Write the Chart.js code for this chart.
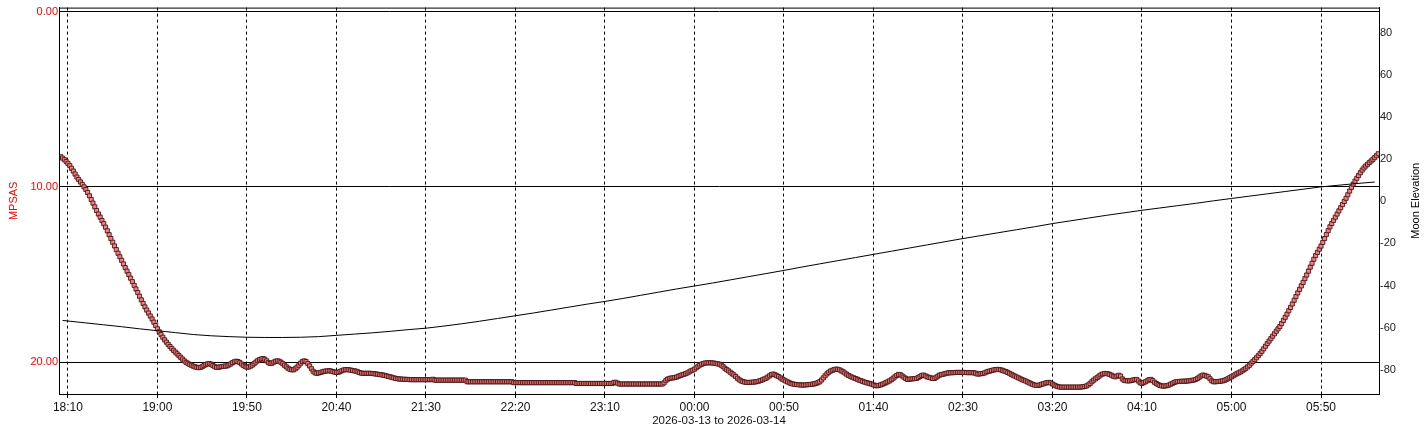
<!DOCTYPE html>
<html>
<head>
<meta charset="utf-8">
<script src="https://cdn.jsdelivr.net/npm/chart.js@4.4.1/dist/chart.umd.min.js"></script>
<style>
  html, body { margin: 0; padding: 0; background: #fff; }
  #wrap { width: 1428px; height: 432px; }
</style>
</head>
<body>
<div id="wrap"><canvas id="chart"></canvas></div>
<script>
// minutes are counted from 18:00 on the first evening
const startHour = 18;
const dateLabel = "2026-03-13 to 2026-03-14";

// sky brightness, one reading a minute, first one at 18:06
const mpsasFirstMinute = 6;
const mpsas = [
  8.28, 8.36, 8.45, 8.55,
  8.66, 8.79, 8.94, 9.10, 9.27, 9.44, 9.58, 9.72, 9.86, 10.00,
  10.15, 10.32, 10.51, 10.72, 10.93, 11.14, 11.35, 11.55, 11.73, 11.92,
  12.10, 12.30, 12.51, 12.73, 12.95, 13.16, 13.37, 13.58, 13.79, 13.99,
  14.19, 14.40, 14.61, 14.81, 15.01, 15.21, 15.41, 15.62, 15.83, 16.03,
  16.24, 16.45, 16.65, 16.85, 17.03, 17.20, 17.37, 17.54, 17.72, 17.91,
  18.10, 18.27, 18.43, 18.58, 18.73, 18.86, 18.99, 19.11, 19.22, 19.33,
  19.43, 19.53, 19.63, 19.73, 19.83, 19.93, 20.01, 20.07, 20.13, 20.18,
  20.23, 20.27, 20.30, 20.32, 20.30, 20.26, 20.20, 20.14, 20.10, 20.08,
  20.12, 20.19, 20.26, 20.30, 20.30, 20.27, 20.25, 20.24, 20.23, 20.21,
  20.16, 20.10, 20.03, 19.98, 19.95, 19.97, 20.03, 20.11, 20.19, 20.25,
  20.29, 20.28, 20.23, 20.17, 20.09, 20.00, 19.92, 19.86, 19.82, 19.80,
  19.84, 19.93, 20.03, 20.08, 20.06, 20.00, 19.95, 19.93, 19.95, 20.01,
  20.09, 20.18, 20.27, 20.35, 20.41, 20.44, 20.44, 20.38, 20.29, 20.18,
  20.06, 19.97, 19.93, 19.97, 20.08, 20.22, 20.38, 20.52, 20.61, 20.64,
  20.62, 20.59, 20.56, 20.53, 20.51, 20.50, 20.49, 20.51, 20.54, 20.57,
  20.59, 20.58, 20.54, 20.49, 20.45, 20.43, 20.43, 20.44, 20.46, 20.48,
  20.50, 20.52, 20.56, 20.60, 20.63, 20.64, 20.64, 20.64, 20.64, 20.64,
  20.65, 20.66, 20.68, 20.69, 20.71, 20.72, 20.74, 20.76, 20.79, 20.82,
  20.84, 20.87, 20.90, 20.93, 20.95, 20.96, 20.97, 20.98, 20.98, 20.99,
  20.99, 21.00, 21.00, 21.00, 21.00, 21.00, 21.00, 21.00, 21.00, 21.00,
  21.00, 21.00, 21.00, 21.00, 20.98, 21.03, 21.03, 21.03, 21.03, 21.03,
  21.03, 21.03, 21.03, 21.03, 21.03, 21.03, 21.03, 21.03, 21.03, 21.03,
  21.03, 21.03, 21.03, 21.12, 21.12, 21.12, 21.12, 21.12, 21.12, 21.12,
  21.12, 21.12, 21.12, 21.12, 21.12, 21.12, 21.12, 21.12, 21.12, 21.12,
  21.12, 21.12, 21.12, 21.12, 21.12, 21.12, 21.12, 21.12, 21.12, 21.17,
  21.17, 21.17, 21.17, 21.17, 21.17, 21.17, 21.17, 21.17, 21.17, 21.17,
  21.17, 21.17, 21.17, 21.17, 21.17, 21.17, 21.17, 21.17, 21.17, 21.17,
  21.17, 21.17, 21.17, 21.17, 21.17, 21.17, 21.17, 21.17, 21.17, 21.17,
  21.17, 21.17, 21.17, 21.17, 21.22, 21.22, 21.22, 21.22, 21.22, 21.22,
  21.22, 21.22, 21.22, 21.22, 21.22, 21.22, 21.22, 21.22, 21.22, 21.22,
  21.22, 21.22, 21.22, 21.22, 21.22, 21.16, 21.15, 21.20, 21.25, 21.25,
  21.25, 21.25, 21.25, 21.25, 21.25, 21.25, 21.25, 21.25, 21.25, 21.25,
  21.25, 21.25, 21.25, 21.25, 21.25, 21.25, 21.25, 21.25, 21.25, 21.25,
  21.25, 21.25, 21.25, 21.18, 21.06, 20.97, 20.93, 20.91, 20.90, 20.88,
  20.85, 20.81, 20.77, 20.73, 20.70, 20.66, 20.62, 20.56, 20.50, 20.46,
  20.40, 20.32, 20.24, 20.17, 20.12, 20.08, 20.05, 20.04, 20.04, 20.04,
  20.05, 20.06, 20.08, 20.10, 20.12, 20.18, 20.26, 20.35, 20.43, 20.50,
  20.58, 20.66, 20.73, 20.82, 20.92, 21.01, 21.07, 21.11, 21.14, 21.16,
  21.16, 21.16, 21.15, 21.14, 21.13, 21.11, 21.08, 21.05, 21.01, 20.96,
  20.92, 20.85, 20.78, 20.71, 20.68, 20.72, 20.78, 20.82, 20.90, 20.97,
  21.02, 21.08, 21.13, 21.18, 21.22, 21.25, 21.27, 21.28, 21.29, 21.30,
  21.31, 21.31, 21.30, 21.29, 21.28, 21.27, 21.26, 21.24, 21.21, 21.17,
  21.12, 21.02, 20.90, 20.78, 20.67, 20.58, 20.51, 20.47, 20.43, 20.40,
  20.41, 20.44, 20.50, 20.55, 20.62, 20.69, 20.76, 20.81, 20.86, 20.90,
  20.94, 20.98, 21.03, 21.06, 21.10, 21.14, 21.17, 21.20, 21.22, 21.26,
  21.30, 21.34, 21.35, 21.33, 21.30, 21.26, 21.22, 21.17, 21.12, 21.07,
  21.00, 20.92, 20.84, 20.76, 20.70, 20.72, 20.79, 20.86, 20.93, 20.99,
  20.98, 20.96, 20.95, 20.94, 20.93, 20.88, 20.82, 20.76, 20.74, 20.79,
  20.84, 20.87, 20.90, 20.93, 20.93, 20.87, 20.80, 20.74, 20.71, 20.69,
  20.66, 20.63, 20.61, 20.61, 20.60, 20.60, 20.59, 20.59, 20.59, 20.59,
  20.59, 20.59, 20.60, 20.60, 20.60, 20.60, 20.61, 20.63, 20.68, 20.68,
  20.66, 20.65, 20.62, 20.57, 20.53, 20.51, 20.48, 20.45, 20.43, 20.42,
  20.42, 20.44, 20.47, 20.51, 20.54, 20.59, 20.64, 20.70, 20.75, 20.80,
  20.85, 20.90, 20.95, 21.00, 21.04, 21.08, 21.13, 21.18, 21.23, 21.27,
  21.31, 21.33, 21.33, 21.30, 21.26, 21.24, 21.20, 21.17, 21.16, 21.19,
  21.25, 21.31, 21.36, 21.40, 21.42, 21.43, 21.43, 21.43, 21.43, 21.43,
  21.43, 21.43, 21.43, 21.43, 21.43, 21.43, 21.42, 21.41, 21.39, 21.36,
  21.30, 21.22, 21.12, 21.03, 20.95, 20.88, 20.80, 20.73, 20.68, 20.65,
  20.65, 20.67, 20.70, 20.75, 20.81, 20.84, 20.80, 20.75, 20.80, 20.96,
  21.04, 21.06, 21.07, 21.07, 21.05, 21.02, 21.00, 20.99, 21.08, 21.18,
  21.22, 21.17, 21.12, 21.06, 21.00, 20.99, 21.06, 21.15, 21.22, 21.28,
  21.33, 21.36, 21.37, 21.36, 21.34, 21.31, 21.26, 21.21, 21.16, 21.12,
  21.11, 21.10, 21.10, 21.09, 21.09, 21.08, 21.07, 21.06, 21.04, 21.02,
  20.99, 20.93, 20.86, 20.79, 20.74, 20.76, 20.80, 20.84, 20.95, 21.07,
  21.12, 21.12, 21.11, 21.10, 21.09, 21.07, 21.04, 21.00, 20.95, 20.89,
  20.84, 20.78, 20.72, 20.66, 20.61, 20.56, 20.50, 20.43, 20.35, 20.27,
  20.18, 20.06, 19.96, 19.86, 19.75, 19.63, 19.51, 19.38, 19.24, 19.09,
  18.94, 18.80, 18.66, 18.52, 18.38, 18.24, 18.10, 17.97, 17.80, 17.62,
  17.44, 17.26, 17.07, 16.88, 16.68, 16.47, 16.26, 16.05, 15.85, 15.65,
  15.45, 15.24, 15.03, 14.81, 14.58, 14.36, 14.13, 13.92, 13.74, 13.56,
  13.38, 13.17, 12.95, 12.72, 12.50, 12.28, 12.09, 11.91, 11.73, 11.55,
  11.37, 11.19, 11.01, 10.83, 10.65, 10.45, 10.24, 10.03, 9.84, 9.67,
  9.51, 9.35, 9.19, 9.04, 8.92, 8.81, 8.71, 8.61, 8.52, 8.43,
  8.33, 8.22, 8.11
];

// moon elevation in degrees
const moonMinutes = [
  7, 10, 20, 30, 40, 50, 60, 70, 80, 90, 100, 110, 120, 130, 140, 150,
  160, 170, 180, 190, 200, 210, 220, 230, 240, 250, 260, 270, 280, 290,
  300, 310, 320, 330, 340, 350, 360, 370, 380, 390, 400, 410, 420, 430,
  440, 450, 460, 470, 480, 490, 500, 510, 520, 530, 540, 550, 560, 570,
  580, 590, 600, 610, 620, 630, 640, 650, 660, 670, 680, 690, 700, 710,
  720, 730, 740
];
const moonElevation = [
  -56.5, -56.8, -57.7, -58.6, -59.5, -60.5, -61.4, -62.3, -63.2, -63.8, -64.2, -64.5, -64.6, -64.6, -64.5, -64.2,
  -63.6, -63.0, -62.4, -61.7, -60.9, -60.2, -59.2, -58.1, -56.9, -55.6, -54.3, -53.0, -51.6, -50.2,
  -48.8, -47.5, -46.1, -44.6, -43.1, -41.6, -40.2, -38.8, -37.3, -35.8, -34.3, -32.8, -31.2, -29.7,
  -28.2, -26.7, -25.2, -23.7, -22.2, -20.7, -19.2, -17.7, -16.3, -14.9, -13.5, -12.1, -10.6, -9.3,
  -8.0, -6.7, -5.5, -4.3, -3.2, -2.1, -1.0, 0.2, 1.3, 2.4, 3.5, 4.6, 5.7, 6.8,
  7.6, 8.4, 9.1
];

const timeTicks = [10, 60, 110, 160, 210, 260, 310, 360, 410, 460, 510, 560, 610, 660, 710];
const mpsasTicks = [0, 10, 20];
const moonTicks = [-80, -60, -40, -20, 0, 20, 40, 60, 80];

const fontFamily = '"Liberation Sans", Arial, sans-serif';

function clockLabel(minutes) {
  const t = (startHour * 60 + minutes) % 1440;
  const h = Math.floor(t / 60);
  const m = t % 60;
  return String(h).padStart(2, "0") + ":" + String(m).padStart(2, "0");
}

// box round the plot, and the right title which reads upwards like the left one
const framePlugin = {
  id: "frame",
  afterDraw(chart) {
    const { ctx, chartArea: a } = chart;
    const moon = chart.scales.moon;
    ctx.save();
    ctx.strokeStyle = "#000";
    ctx.lineWidth = 1;
    ctx.strokeRect(a.left + 0.5, a.top + 0.5, a.right - a.left, a.bottom - a.top);
    ctx.translate(moon.right - 12, (a.top + a.bottom) / 2);
    ctx.rotate(-Math.PI / 2);
    ctx.font = "11px " + fontFamily;
    ctx.fillStyle = "#000";
    ctx.textAlign = "center";
    ctx.textBaseline = "middle";
    ctx.fillText("Moon Elevation", 0, 0);
    ctx.restore();
  }
};

new Chart(document.getElementById("chart"), {
  type: "line",
  data: {
    datasets: [
      {
        label: "Moon Elevation",
        data: moonMinutes.map((m, i) => ({ x: m, y: moonElevation[i] })),
        yAxisID: "moon",
        borderColor: "#000",
        borderWidth: 1,
        pointRadius: 0,
        order: 0
      },
      {
        label: "MPSAS",
        data: mpsas.map((v, i) => ({ x: mpsasFirstMinute + i, y: v })),
        yAxisID: "y",
        showLine: false,
        pointStyle: "rect",
        pointRadius: 2.9,
        pointBorderWidth: 0.9,
        backgroundColor: "#f58282",
        borderColor: "#4a1414",
        order: 1
      }
    ]
  },
  options: {
    responsive: true,
    maintainAspectRatio: false,
    animation: false,
    layout: { padding: { top: 7, left: 0, right: 0, bottom: 0 } },
    plugins: {
      legend: { display: false },
      tooltip: { enabled: false }
    },
    scales: {
      x: {
        type: "linear",
        min: 5,
        max: 742.4,
        afterBuildTicks: (s) => { s.ticks = timeTicks.map((v) => ({ value: v })); },
        afterFit: (s) => { s.height = 38; },
        ticks: {
          callback: (v) => clockLabel(v),
          color: "#111",
          font: { family: fontFamily, size: 12 },
          padding: 2,
          maxRotation: 0,
          autoSkip: false
        },
        grid: { color: "#000", lineWidth: 1, tickLength: 4, tickColor: "#000" },
        border: { color: "#000", dash: [3, 3] },
        title: {
          display: true,
          text: dateLabel,
          color: "#111",
          font: { family: fontFamily, size: 11.5 },
          padding: { top: 0, bottom: 4 }
        }
      },
      y: {
        position: "left",
        reverse: true,
        min: -0.23,
        max: 21.82,
        afterBuildTicks: (s) => { s.ticks = mpsasTicks.map((v) => ({ value: v })); },
        afterFit: (s) => { s.width = 59; },
        ticks: {
          callback: (v) => v.toFixed(2),
          color: "#ff0000",
          font: { family: fontFamily, size: 11 },
          padding: 1
        },
        grid: { color: "#000", lineWidth: 1, drawTicks: false },
        border: { color: "#000" },
        title: {
          display: true,
          text: "MPSAS",
          color: "#ff0000",
          font: { family: fontFamily, size: 11 },
          padding: { top: 7, bottom: 0 }
        }
      },
      moon: {
        position: "right",
        min: -91.4,
        max: 91.8,
        afterBuildTicks: (s) => { s.ticks = moonTicks.map((v) => ({ value: v })); },
        afterFit: (s) => { s.width = 49; },
        ticks: {
          color: "#222",
          font: { family: fontFamily, size: 11 },
          padding: 1
        },
        grid: { drawOnChartArea: false, drawTicks: false },
        border: { color: "#000" }
      }
    }
  },
  plugins: [framePlugin]
});
</script>
</body>
</html>
